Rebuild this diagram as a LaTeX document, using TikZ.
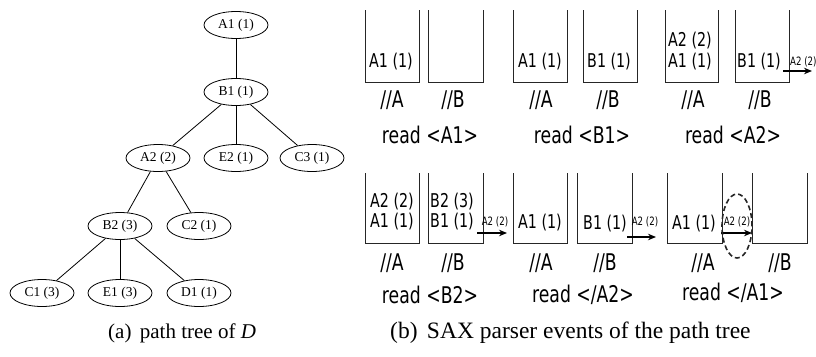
\documentclass[tikz,border=0pt]{standalone}
\usepackage{fontspec}
\setmainfont{Liberation Serif}
\newfontfamily\stk{DejaVu Sans}[FakeStretch=0.75]
\usetikzlibrary{shapes.geometric,arrows.meta}
\newcommand\stackshape[4]{\draw[stackbox] (#1,#3) -- (#1,#4) -- (#2,#4) -- (#2,#3);}
\begin{document}
\begin{tikzpicture}[x=1pt,y=-1pt,
  tnode/.style={ellipse,draw,line width=0.8pt,minimum width=64pt,minimum height=27pt,inner sep=0pt,font=\fontsize{13.5}{14}\selectfont},
  tedge/.style={line width=0.8pt},
  stackbox/.style={draw=black!85,line width=1pt},
  item/.style={font=\stk\fontsize{19}{20}\selectfont,inner sep=0pt},
  qlabel/.style={font=\stk\fontsize{23}{25}\selectfont,inner sep=0pt},
  tinylab/.style={font=\stk\fontsize{11.5}{12}\selectfont,inner sep=0pt},
  pushar/.style={line width=2pt,-{Stealth[length=8pt,width=6.5pt]}},
  captext/.style={inner sep=0pt,anchor=west}]
\useasboundingbox (0,0) rectangle (816,356);
% ---------------- tree ----------------
\node[tnode] (a1) at (236,25) {A1 (1)};
\node[tnode] (b1) at (236,92) {B1 (1)};
\node[tnode] (a2) at (158,158) {A2 (2)};
\node[tnode] (e2) at (236,158) {E2 (1)};
\node[tnode] (c3) at (312,158) {C3 (1)};
\node[tnode] (b2) at (120,226) {B2 (3)};
\node[tnode] (c2) at (199,226) {C2 (1)};
\node[tnode] (c1) at (42,293) {C1 (3)};
\node[tnode] (e1) at (120,293) {E1 (3)};
\node[tnode] (d1) at (199,293) {D1 (1)};
\draw[tedge] (a1) -- (b1);
\draw[tedge] (b1) -- (a2);
\draw[tedge] (b1) -- (e2);
\draw[tedge] (b1) -- (c3);
\draw[tedge] (a2) -- (b2);
\draw[tedge] (a2) -- (c2);
\draw[tedge] (b2) -- (c1);
\draw[tedge] (b2) -- (e1);
\draw[tedge] (b2) -- (d1);
\node[captext,font=\fontsize{21}{23}\selectfont] (capa) at (108,333) {(a)\hspace{0.4em}path tree of \textit{D}};
% ---------------- row 1 ----------------
\stackshape{365}{419}{10}{82}
\stackshape{428}{483}{10}{82}
\stackshape{513}{567}{10}{82}
\stackshape{583}{637}{10}{82}
\stackshape{665}{718}{10}{82}
\stackshape{735}{789}{10}{82}
\node[item] (r1a) at (391,62) {A1 (1)};
\node[item] (r1b) at (540,62) {A1 (1)};
\node[item] (r1c) at (609,62) {B1 (1)};
\node[item] (r1d) at (690,41) {A2 (2)};
\node[item] (r1e) at (690,62) {A1 (1)};
\node[item] (r1f) at (759,62) {B1 (1)};
\coordinate (p1s) at (783,71);
\coordinate (p1e) at (812,71);
\draw[pushar] (p1s) -- (p1e);
\node[tinylab,anchor=west] (p1l) at (790,62) {A2 (2)};
\foreach \x/\t [count=\i] in {392/A,453/B,541/A,608/B,693/A,760/B}
  \node[qlabel] (q1\i) at (\x,100) {//\t};
\node[qlabel] (ev1) at (430,135) {read <A1>};
\node[qlabel] (ev2) at (582,135) {read <B1>};
\node[qlabel] (ev3) at (733,135) {read <A2>};
% ---------------- row 2 ----------------
\stackshape{365}{419}{173}{243}
\stackshape{428}{483}{173}{243}
\stackshape{513}{567}{173}{243}
\stackshape{577}{632}{173}{243}
\stackshape{667}{722}{173}{243}
\stackshape{752}{807}{173}{243}
\node[item] (r2a) at (392,202) {A2 (2)};
\node[item] (r2b) at (392,222) {A1 (1)};
\node[item] (r2c) at (452,202) {B2 (3)};
\node[item] (r2d) at (452,222) {B1 (1)};
\node[item] (r2e) at (540,223) {A1 (1)};
\node[item] (r2f) at (605,224) {B1 (1)};
\node[item] (r2g) at (694,224) {A1 (1)};
\coordinate (p2s) at (477,233);
\coordinate (p2e) at (507,233);
\draw[pushar] (p2s) -- (p2e);
\node[tinylab] (p2l) at (495,222) {A2 (2)};
\coordinate (p3s) at (627,237);
\coordinate (p3e) at (656,237);
\draw[pushar] (p3s) -- (p3e);
\node[tinylab] (p3l) at (645,222) {A2 (2)};
\coordinate (p4s) at (721,233);
\coordinate (p4e) at (752,233);
\draw[pushar] (p4s) -- (p4e);
\node[tinylab] (p4l) at (737,222) {A2 (2)};
\node[ellipse,draw=black!85,dash pattern=on 5pt off 3pt,line width=1.6pt,minimum width=30pt,minimum height=64pt,inner sep=0pt] (hl) at (737,226) {};
\foreach \x/\t [count=\i] in {392/A,453/B,541/A,605/B,703/A,780/B}
  \node[qlabel] (q2\i) at (\x,263) {//\t};
\node[qlabel] (ev4) at (430,295) {read <B2>};
\node[qlabel] (ev5) at (583,295) {read </A2>};
\node[qlabel] (ev6) at (733,293) {read </A1>};
\node[captext,font=\fontsize{23.5}{25}\selectfont] (capb) at (390,333) {(b)\hspace{0.4em}SAX parser events of the path tree};
\end{tikzpicture}
\end{document}
